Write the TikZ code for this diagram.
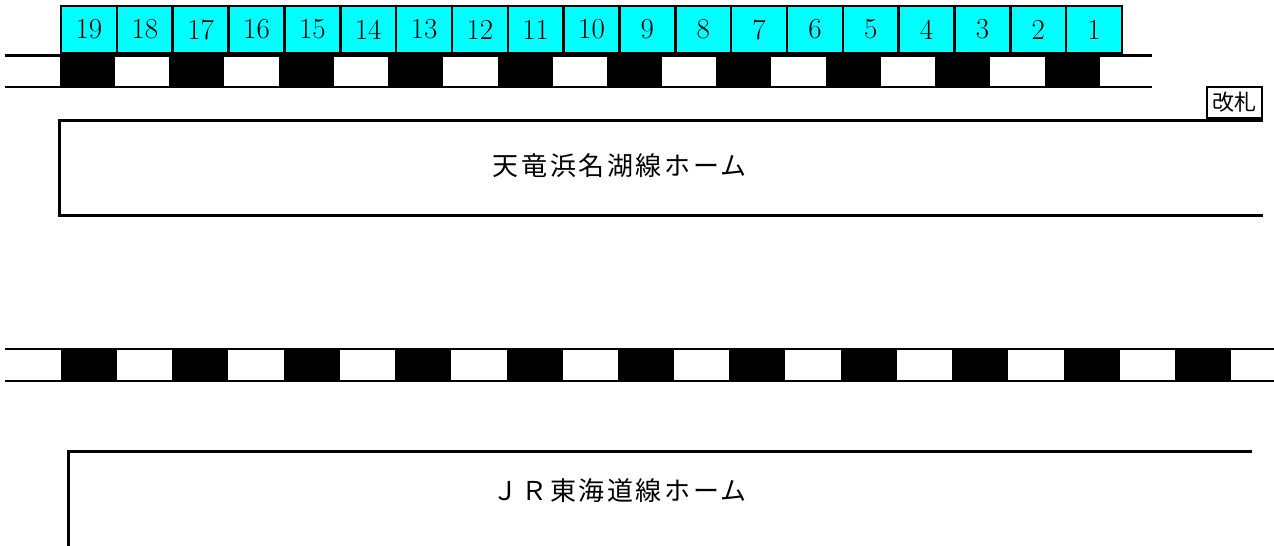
\documentclass[tikz,border=0pt]{standalone}
\usepackage{fontspec}
\setmainfont{Latin Modern Roman}
\newfontfamily\jpfont[LetterSpace=10]{Noto Sans CJK JP}
\newfontfamily\jpgate{Noto Sans CJK JP}
\usetikzlibrary{positioning}

\definecolor{carcyan}{RGB}{0,255,255}
\tikzset{
  car/.style={draw,fill=carcyan,line width=2.5pt,minimum width=55.84pt,minimum height=47pt,
    inner sep=0pt,font=\fontsize{29}{29}\selectfont},
  sleeper/.style={fill=black,minimum width=55pt,minimum height=31.5pt,inner sep=0pt},
  rail/.style={line width=2.5pt},
  edge/.style={line width=3pt},
  label/.style={font=\jpfont\fontsize{26}{26}\selectfont},
}

\begin{document}
\begin{tikzpicture}[x=1pt,y=-1pt,on grid]
  \useasboundingbox (0,0) rectangle (1274,546);

  % upper track (Tenryu Hamanako line)
  \begin{scope}[node distance=109.4pt]
    \node[sleeper] (s1)                 at (87.5,71.25) {};
    \node[sleeper] (s2)  [right=of s1]  {};
    \node[sleeper] (s3)  [right=of s2]  {};
    \node[sleeper] (s4)  [right=of s3]  {};
    \node[sleeper] (s5)  [right=of s4]  {};
    \node[sleeper] (s6)  [right=of s5]  {};
    \node[sleeper] (s7)  [right=of s6]  {};
    \node[sleeper] (s8)  [right=of s7]  {};
    \node[sleeper] (s9)  [right=of s8]  {};
    \node[sleeper] (s10) [right=of s9]  {};
  \end{scope}
  \draw[rail] (5,55.5) -- (1152,55.5);
  \draw[rail] (5,87) -- (1152,87);

  % train cars
  \begin{scope}[node distance=55.84pt]
    \node[car] (c1)                  at (1094.1,29.5) {1};
    \node[car] (c2)  [left=of c1]  {2};
    \node[car] (c3)  [left=of c2]  {3};
    \node[car] (c4)  [left=of c3]  {4};
    \node[car] (c5)  [left=of c4]  {5};
    \node[car] (c6)  [left=of c5]  {6};
    \node[car] (c7)  [left=of c6]  {7};
    \node[car] (c8)  [left=of c7]  {8};
    \node[car] (c9)  [left=of c8]  {9};
    \node[car] (c10) [left=of c9]  {10};
    \node[car] (c11) [left=of c10] {11};
    \node[car] (c12) [left=of c11] {12};
    \node[car] (c13) [left=of c12] {13};
    \node[car] (c14) [left=of c13] {14};
    \node[car] (c15) [left=of c14] {15};
    \node[car] (c16) [left=of c15] {16};
    \node[car] (c17) [left=of c16] {17};
    \node[car] (c18) [left=of c17] {18};
    \node[car] (c19) [left=of c18] {19};
  \end{scope}

  % upper platform
  \draw[edge] (1263,120) -- (59,120) -- (59,215) -- (1263,215);
  \node[draw,line width=2.5pt,minimum width=55pt,minimum height=31pt,inner sep=0pt,
        font=\jpgate\fontsize{22}{22}\selectfont] (gate) at (1234.5,102.5) {改札};
  \node[label] (hama) at (620,166) {天竜浜名湖線ホーム};

  % lower track (JR)
  \begin{scope}[node distance=111.4pt]
    \node[sleeper,minimum width=56pt,minimum height=32pt] (t1) at (89,365) {};
    \node[sleeper,minimum width=56pt,minimum height=32pt] (t2)  [right=of t1]  {};
    \node[sleeper,minimum width=56pt,minimum height=32pt] (t3)  [right=of t2]  {};
    \node[sleeper,minimum width=56pt,minimum height=32pt] (t4)  [right=of t3]  {};
    \node[sleeper,minimum width=56pt,minimum height=32pt] (t5)  [right=of t4]  {};
    \node[sleeper,minimum width=56pt,minimum height=32pt] (t6)  [right=of t5]  {};
    \node[sleeper,minimum width=56pt,minimum height=32pt] (t7)  [right=of t6]  {};
    \node[sleeper,minimum width=56pt,minimum height=32pt] (t8)  [right=of t7]  {};
    \node[sleeper,minimum width=56pt,minimum height=32pt] (t9)  [right=of t8]  {};
    \node[sleeper,minimum width=56pt,minimum height=32pt] (t10) [right=of t9]  {};
    \node[sleeper,minimum width=56pt,minimum height=32pt] (t11) [right=of t10] {};
  \end{scope}
  \draw[rail] (5,349) -- (1274,349);
  \draw[rail] (5,381) -- (1274,381);

  % lower platform
  \draw[edge] (1252,451) -- (68,451) -- (68,550);
  \node[label] (jr) at (620,491) {ＪＲ東海道線ホーム};
\end{tikzpicture}
\end{document}
